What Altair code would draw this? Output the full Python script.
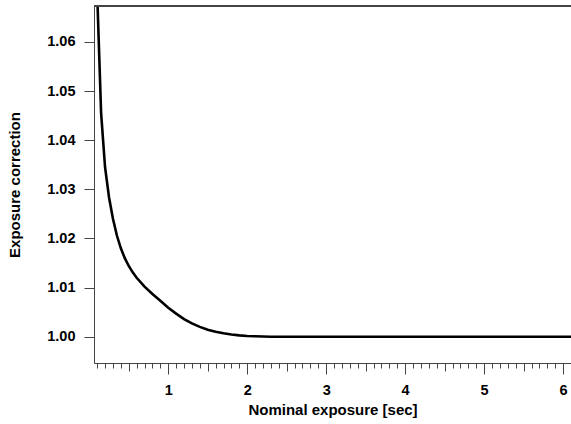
import altair as alt
import pandas as pd

# Values
exposure = [0.10, 0.15, 0.20, 0.25, 0.30, 0.35, 0.40, 0.45, 0.50, 0.55, 0.60,
            0.70, 0.80, 0.90, 1.00, 1.10, 1.20, 1.30, 1.40, 1.50, 1.60, 1.70,
            1.80, 1.90, 2.00, 2.10, 2.20, 2.30, 3.00, 4.00, 5.00, 6.00, 6.10]
correction = [1.0700, 1.0455, 1.0345, 1.0284, 1.0240, 1.0206, 1.0180, 1.0160,
              1.0144, 1.0131, 1.0120, 1.0102, 1.0087, 1.0073, 1.0059, 1.0047,
              1.0036, 1.0027, 1.0020, 1.0014, 1.0010, 1.0007, 1.00045, 1.00028,
              1.00016, 1.00008, 1.00003, 1.0000, 1.0000, 1.0000, 1.0000, 1.0000,
              1.0000]

x_tick_values = [round(0.1 * i, 1) for i in range(1, 62)]
y_tick_values = [1.00, 1.01, 1.02, 1.03, 1.04, 1.05, 1.06]

df = pd.DataFrame({"exposure": exposure, "correction": correction})

W, H = 477, 357
FONT = "Liberation Sans"
AX = "#444444"

x_axis = alt.Axis(
    values=x_tick_values,
    labelExpr="datum.value % 1 === 0 ? format(datum.value, 'd') : ''",
    tickSize={"condition": [
        {"test": "datum.value % 1 === 0", "value": 11},
        {"test": "abs(datum.value * 2 - round(datum.value * 2)) < 0.001", "value": 8}],
        "value": 5},
    labelPadding=9,
    labelFont=FONT, labelFontSize=14.5, labelFontWeight="bold", labelColor="black",
    title="Nominal exposure [sec]", titleFont=FONT, titleFontSize=15,
    titleFontWeight="bold", titleColor="black", titlePadding=6,
    domainColor=AX, tickColor=AX, grid=False, labelFlush=False,
)
y_axis = alt.Axis(
    values=y_tick_values, format=".2f", tickSize=10, labelPadding=9,
    labelFont=FONT, labelFontSize=14.5, labelFontWeight="bold", labelColor="black",
    title="Exposure correction", titleFont=FONT, titleFontSize=15,
    titleFontWeight="bold", titleColor="black", titlePadding=24,
    domainColor=AX, tickColor=AX, grid=False,
)

line = alt.Chart(df).mark_line(color="black", strokeWidth=2.6, clip=True).encode(
    x=alt.X("exposure:Q", scale=alt.Scale(domain=[0.06, 6.1], nice=False, zero=False), axis=x_axis),
    y=alt.Y("correction:Q", scale=alt.Scale(domain=[0.99465, 1.06732], nice=False, zero=False), axis=y_axis),
)

top = alt.Chart(df).mark_rule(color=AX, strokeWidth=1).encode(
    x=alt.value(0), x2=alt.value(W), y=alt.value(0)
)

chart = alt.layer(line, top).properties(
    width=W, height=H,
    autosize=alt.AutoSizeParams(type="none"),
    padding={"left": 94, "top": 6, "right": 0, "bottom": 61},
).configure_view(stroke=None).configure(background="white")

chart.save("out.html", embed_options={"renderer": "svg", "actions": False})
